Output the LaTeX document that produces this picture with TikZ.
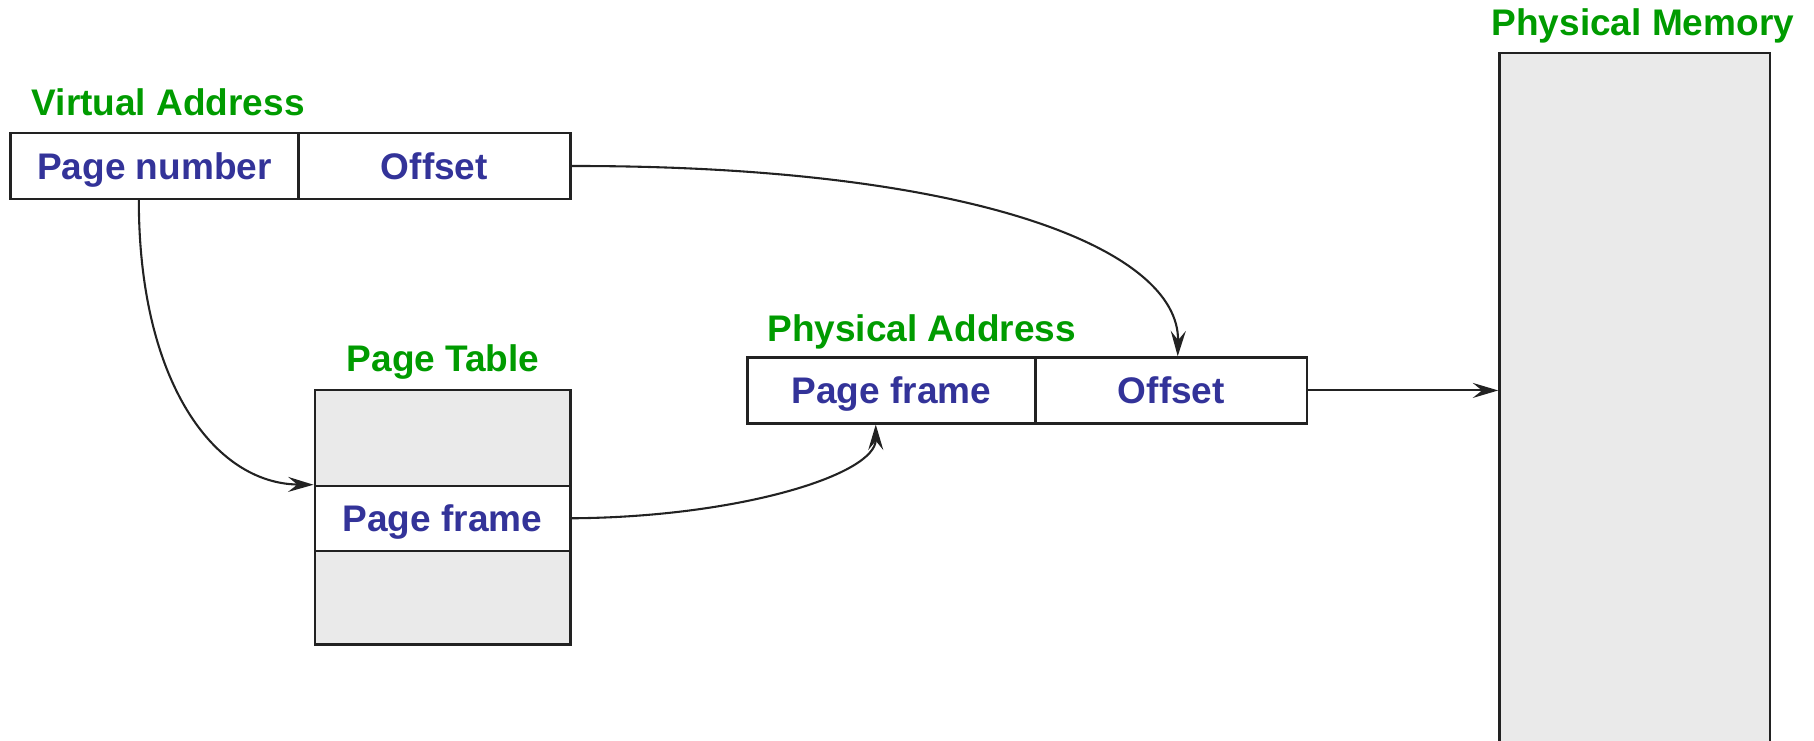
\documentclass[tikz,border=0pt]{standalone}
\usepackage{fontspec}
\setmainfont{Liberation Sans}
\usetikzlibrary{arrows.meta}
\definecolor{lblgreen}{RGB}{0,155,0}
\definecolor{txtblue}{RGB}{51,51,153}
\definecolor{cellgray}{RGB}{234,234,234}
\definecolor{linedark}{RGB}{34,34,34}
\begin{document}
\begin{tikzpicture}[x=0.5pt,y=-0.5pt,
  cell/.style={draw=linedark, line width=1pt, rectangle, inner sep=0pt,
    font=\fontsize{16}{19}\selectfont\bfseries, text=txtblue,
    text height=1.33em, text depth=0.2em},
  graycell/.style={cell, fill=cellgray},
  title/.style={inner sep=0pt, font=\fontsize{16}{19}\selectfont\bfseries, text=lblgreen},
  conn/.style={draw=linedark, line width=0.9pt, -{Stealth[length=11pt,width=6.5pt,inset=4pt]}}]
\useasboundingbox (0,0) rectangle (1568,640);
% Virtual address
\node[title, anchor=base west] (vat) at (27,100) {Virtual Address};
\node[cell, minimum width=124.5pt, minimum height=28.5pt] (vpn) at (133.5,143.5) {Page number};
\node[cell, minimum width=117.5pt, minimum height=28.5pt] (voff) at (375.5,143.5) {Offset};
% Page table
\node[title, anchor=base] (ptt) at (383,321) {Page Table};
\node[graycell, minimum width=110.5pt, minimum height=41.5pt] (pttop) at (382.5,378.5) {};
\node[cell, minimum width=110.5pt, minimum height=28pt] (ptmid) at (382.5,448) {Page frame};
\node[graycell, minimum width=110.5pt, minimum height=40.5pt] (ptbot) at (382.5,516.5) {};
% Physical address
\node[title, anchor=base west] (pat) at (663,295) {Physical Address};
\node[cell, minimum width=124.5pt, minimum height=28.5pt] (ppf) at (770.5,337.5) {Page frame};
\node[cell, minimum width=117.5pt, minimum height=28.5pt] (poff) at (1012.5,337.5) {Offset};
% Physical memory
\node[title, anchor=base] (pmt) at (1420,31) {Physical Memory};
\node[graycell, minimum width=117pt, minimum height=310pt] (pm) at (1413,356) {};
% connectors
\draw[conn] ([xshift=-6.75pt]vpn.south) .. controls (120,330) and (185,418) .. (ptmid.north west);
\draw[conn] (voff.east) .. controls (840,143) and (1020,215) .. ([xshift=2.75pt]poff.north);
\draw[conn] (ptmid.east) .. controls (640,447) and (757,410) .. ([xshift=-6.75pt]ppf.south);
\draw[conn] (poff.east) -- (pm.west |- poff.east);
\end{tikzpicture}
\end{document}
